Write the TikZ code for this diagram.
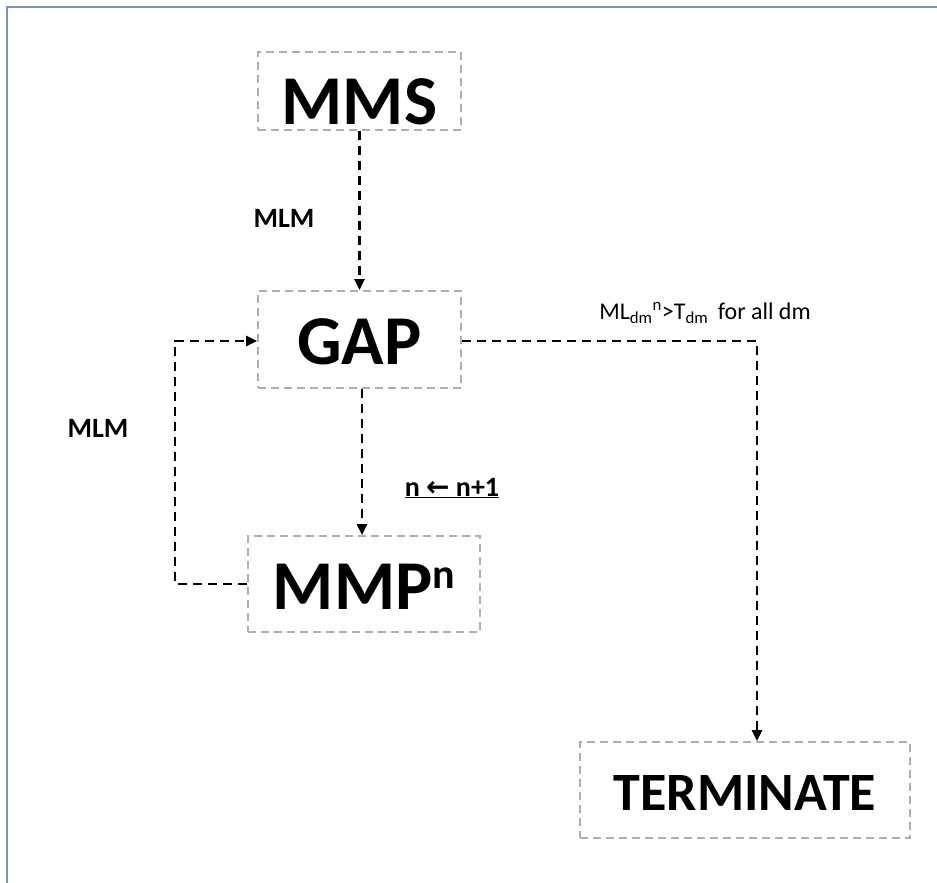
\documentclass[tikz,border=0pt]{standalone}
\usepackage{fontspec}
\setmainfont{Carlito}
\newfontfamily\djv{DejaVu Sans}
\usetikzlibrary{arrows.meta}
\definecolor{boxgray}{RGB}{175,175,175}
\definecolor{framec}{RGB}{125,145,180}
\newcommand{\lowerby}[2]{\raisebox{-#1}[\height][\depth]{#2}}
\begin{document}
\begin{tikzpicture}[x=1pt,y=-1pt,
  boxst/.style={draw=boxgray,dash pattern=on 8pt off 5pt,line width=1.8pt,inner sep=0pt,text=black},
  conn/.style={draw=black,line width=2.4pt,dash pattern=on 9pt off 6pt,-{Triangle[length=11pt,width=10pt]}},
  lbl/.style={font=\bfseries\fontsize{28}{30}\selectfont}]
\useasboundingbox (0,0) rectangle (937,883);
\fill[white] (0,0) rectangle (937,883);
\draw[framec,line width=1.5pt] (7,883) -- (7,7) -- (937,7);
\node[boxst,minimum width=203pt,minimum height=78pt] (mms) at (359.5,91) {\lowerby{11pt}{\bfseries\fontsize{70}{74}\selectfont MMS}};
\node[boxst,minimum width=203pt,minimum height=97pt] (gap) at (359.5,339.5) {\lowerby{2pt}{\bfseries\fontsize{70}{74}\selectfont GAP}};
\node[boxst,minimum width=232pt,minimum height=96pt] (mmp) at (364,584) {\lowerby{2.5pt}{\bfseries\fontsize{70}{74}\selectfont MMP\raisebox{21pt}{\fontsize{42}{44}\selectfont n}}};
\node[boxst,minimum width=330pt,minimum height=96pt] (term) at (745,790) {\lowerby{3pt}{\bfseries\fontsize{54}{58}\selectfont TERMINATE}};
\coordinate (c1) at (175,584);
\coordinate (c2) at (175,341);
\coordinate (c3) at (757,341);
\draw[conn] (mms.south) -- (gap.north);
\draw[conn] (gap.south -| 362,0) -- (mmp.north -| 362,0);
\draw[conn] (mmp.west) -- (c1) -- (c2) -- (c2 -| gap.west);
\draw[conn] (gap.east |- c3) -- (c3) -- (c3 |- term.north);
\node[lbl] (l1) at (284,218) {MLM};
\node[lbl] (l2) at (98,428) {MLM};
\node[lbl] (l3) at (452,488) {\underline{n {\djv\bfseries\fontsize{28}{30}\selectfont ←} n+1}};
\node[font=\fontsize{24}{26}\selectfont] (l4) at (705,313) {ML\textsubscript{dm}\textsuperscript{n}>T\textsubscript{dm}\, for all dm};
\end{tikzpicture}
\end{document}
